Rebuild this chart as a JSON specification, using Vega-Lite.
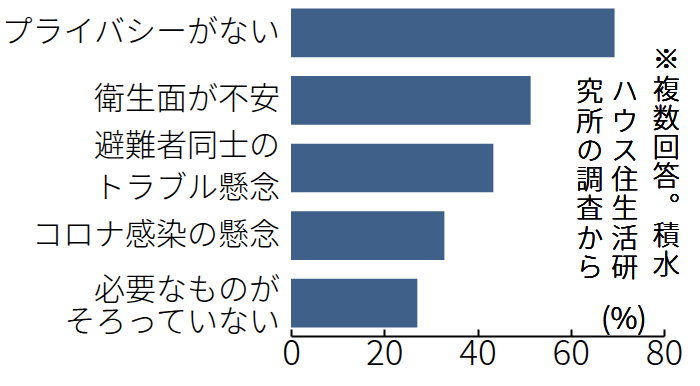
{
  "$schema": "https://vega.github.io/schema/vega-lite/v6.json",
  "width": 373,
  "height": 336,
  "autosize": {"type": "none"},
  "padding": {"left": 291, "top": 0, "right": 36, "bottom": 50},
  "background": "white",
  "config": {"view": {"stroke": null}, "font": "Noto Sans CJK JP", "text": {"fontWeight": 300}},
  "data": {
    "values": [
      {"item": "プライバシーがない", "lines": ["プライバシーがない"], "value": 69.4},
      {"item": "衛生面が不安", "lines": ["衛生面が不安"], "value": 51.4},
      {"item": "避難者同士のトラブル懸念", "lines": ["避難者同士の", "トラブル懸念"], "value": 43.4},
      {"item": "コロナ感染の懸念", "lines": ["コロナ感染の懸念"], "value": 32.9},
      {"item": "必要なものがそろっていない", "lines": ["必要なものが", "そろっていない"], "value": 27.1}
    ]
  },
  "encoding": {
    "y": {
      "field": "item",
      "type": "nominal",
      "sort": null,
      "scale": {"paddingInner": 0.28, "paddingOuter": 0.125},
      "axis": null
    }
  },
  "layer": [
    {
      "mark": {"type": "bar", "color": "#3e6089"},
      "encoding": {
        "x": {
          "field": "value",
          "type": "quantitative",
          "scale": {"domain": [0, 80], "nice": false},
          "axis": {
            "values": [0, 20, 40, 60, 80],
            "title": null,
            "grid": false,
            "domainColor": "black",
            "domainWidth": 2,
            "tickColor": "black",
            "tickWidth": 2,
            "tickSize": -7,
            "labelFont": "Noto Sans CJK JP",
            "labelFontWeight": 300,
            "labelFontSize": 35,
            "labelColor": "black",
            "labelPadding": 7,
            "labelFlush": false,
            "labelOverlap": false
          }
        }
      }
    },
    {
      "transform": [{"filter": "datum.item === 'プライバシーがない' || datum.item === '衛生面が不安' || datum.item === 'コロナ感染の懸念'"}],
      "mark": {"type": "text", "align": "right", "baseline": "middle", "dx": -11, "fontSize": 31, "color": "black"},
      "encoding": {
        "x": {"datum": 0, "type": "quantitative"},
        "text": {"field": "lines"}
      }
    },
    {
      "transform": [{"filter": "datum.item === '避難者同士のトラブル懸念'"}],
      "mark": {"type": "text", "align": "right", "baseline": "middle", "dx": -11, "dy": -21, "fontSize": 31, "lineHeight": 42, "color": "black"},
      "encoding": {
        "x": {"datum": 0, "type": "quantitative"},
        "text": {"field": "lines"}
      }
    },
    {
      "transform": [{"filter": "datum.item === '必要なものがそろっていない'"}],
      "mark": {"type": "text", "align": "right", "baseline": "middle", "dx": -11, "dy": -12, "fontSize": 31, "lineHeight": 32, "color": "black"},
      "encoding": {
        "x": {"datum": 0, "type": "quantitative"},
        "text": {"field": "lines"}
      }
    },
    {
      "mark": {"type": "text", "align": "center", "baseline": "middle", "dy": 28.5, "fontSize": 27, "lineHeight": 29.3, "color": "black"},
      "encoding": {
        "x": {"datum": 80.5, "type": "quantitative"},
        "y": {"datum": "プライバシーがない", "type": "nominal"},
        "text": {"value": ["※", "複", "数", "回", "答", "︒", "積", "水"]}
      }
    },
    {
      "mark": {"type": "text", "align": "center", "baseline": "middle", "dy": 60.5, "fontSize": 27, "lineHeight": 29.3, "color": "black"},
      "encoding": {
        "x": {"datum": 71.6, "type": "quantitative"},
        "y": {"datum": "プライバシーがない", "type": "nominal"},
        "text": {"value": ["ハ", "ウ", "ス", "住", "生", "活", "研"]}
      }
    },
    {
      "mark": {"type": "text", "align": "center", "baseline": "middle", "dy": 60.5, "fontSize": 27, "lineHeight": 29.3, "color": "black"},
      "encoding": {
        "x": {"datum": 64.1, "type": "quantitative"},
        "y": {"datum": "プライバシーがない", "type": "nominal"},
        "text": {"value": ["究", "所", "の", "調", "査", "か", "ら"]}
      }
    },
    {
      "mark": {"type": "text", "align": "center", "baseline": "middle", "dy": 17, "fontSize": 30, "color": "black"},
      "encoding": {
        "x": {"datum": 71.4, "type": "quantitative"},
        "y": {"datum": "必要なものがそろっていない", "type": "nominal"},
        "text": {"value": "(%)"}
      }
    }
  ]
}
